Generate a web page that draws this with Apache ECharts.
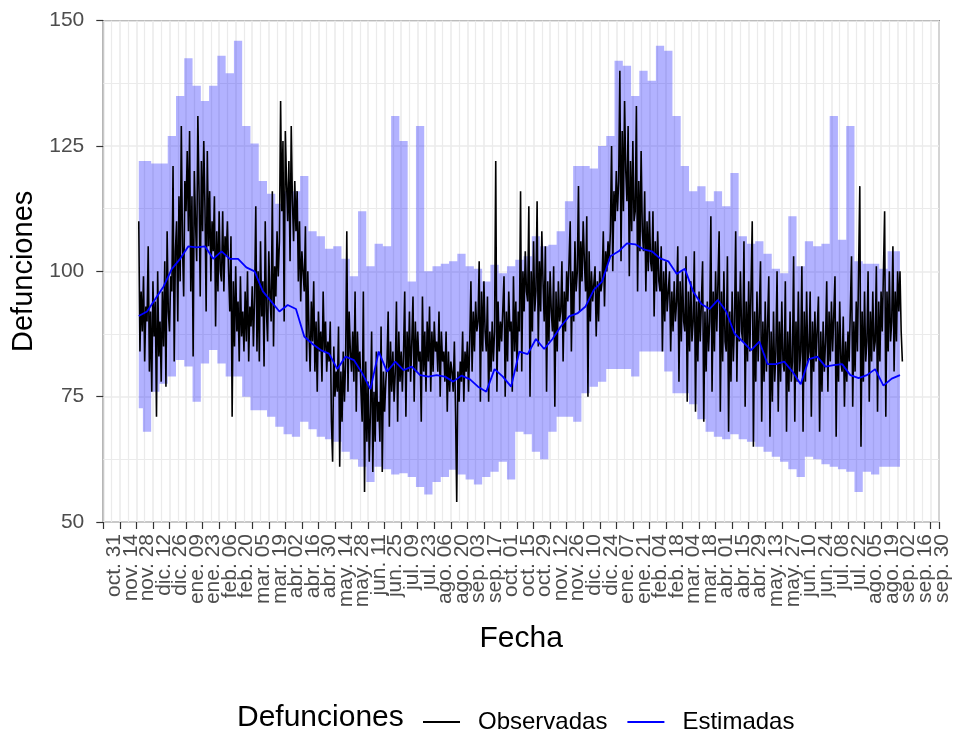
<!DOCTYPE html>
<html lang="es">
<head>
<meta charset="UTF-8">
<title>Defunciones observadas y estimadas</title>
<style>
    html, body {
        margin: 0;
        padding: 0;
        background: #fff;
    }

    #main {
        width: 953px;
        height: 731px;
    }
</style>
</head>
<body>
<div id="main"></div>
<script src="https://cdn.jsdelivr.net/npm/echarts@6/dist/echarts.min.js"></script>
<script>
    // origen del eje x: las etiquetas van cada 14 dias desde aqui
    const axisOrigin = '2019-10-31'
    const dataStart = '2019-11-30'
    const axisEnd = 707
    const weekStep = 7
    const tickDays = 14
    const meses = ['ene', 'feb', 'mar', 'abr', 'may', 'jun', 'jul', 'ago', 'sep', 'oct', 'nov', 'dic']

    // defunciones observadas, diarias desde dataStart (una fila por semana)
    const observadas = [
        110, 84, 96, 88, 99, 82, 93,
        90, 105, 80, 92, 76, 98, 87,
        94, 71, 100, 83, 90, 78, 96,
        85, 102, 77, 108, 92, 88, 99,
        96, 121, 82, 104, 110, 90, 115,
        98, 129, 105, 95, 118, 112, 124,
        108, 128, 96, 115, 83, 120, 110,
        102, 131, 116, 95, 122, 108, 126,
        113, 92, 124, 105, 116, 98, 110,
        104, 115, 89, 108, 96, 112, 100,
        98, 112, 96, 107, 103, 110, 100,
        92, 107, 71, 98, 85, 101, 88,
        94, 82, 99, 87, 92, 84, 96,
        86, 100, 82, 93, 89, 97, 85,
        95, 113, 84, 100, 82, 106, 91,
        98, 81, 110, 92, 86, 104, 95,
        90, 116, 85, 101, 95, 108, 99,
        106, 134, 112, 126, 90, 128, 118,
        110, 122, 102, 129, 114, 106, 118,
        108, 116, 98, 110, 94, 104, 100,
        96, 109, 82, 100, 88, 80, 94,
        86, 98, 80, 90, 76, 92, 84,
        88, 78, 96, 84, 90, 80, 86,
        82, 90, 70, 62, 85, 75, 80,
        76, 89, 61, 80, 70, 84, 74,
        82, 108, 76, 92, 84, 80, 88,
        78, 96, 72, 88, 80, 84, 76,
        70, 96, 56, 82, 66, 78, 62,
        72, 88, 60, 76, 66, 84, 70,
        74, 66, 89, 60, 80, 72, 78,
        82, 92, 69, 86, 76, 84, 74,
        80, 94, 70, 88, 78, 84, 76,
        84, 96, 71, 88, 80, 92, 78,
        86, 95, 74, 90, 80, 88, 82,
        84, 70, 95, 80, 88, 76, 90,
        82, 93, 76, 88, 80, 90, 84,
        86, 80, 92, 75, 88, 82, 84,
        78, 88, 72, 84, 76, 82, 80,
        76, 86, 72, 54, 80, 74, 82,
        78, 88, 74, 84, 80, 86, 76,
        86, 98, 80, 92, 84, 94, 88,
        90, 102, 74, 96, 84, 98, 88,
        84, 95, 74, 88, 80, 90, 82,
        88, 122, 76, 94, 84, 90, 86,
        86, 99, 75, 92, 82, 96, 88,
        90, 76, 99, 84, 94, 80, 92,
        88, 116, 80, 100, 92, 104, 96,
        94, 113, 75, 100, 88, 106, 92,
        96, 114, 85, 102, 92, 108, 98,
        90, 105, 76, 98, 86, 100, 92,
        88, 101, 73, 96, 84, 98, 90,
        92, 102, 82, 96, 88, 100, 94,
        94, 110, 84, 100, 90, 106, 96,
        100, 117, 92, 106, 98, 110, 102,
        96, 111, 75, 104, 90, 100, 94,
        94, 101, 87, 98, 90, 100, 96,
        98, 108, 93, 104, 100, 106, 102,
        108, 125, 100, 116, 110, 120, 112,
        118, 140, 102, 128, 112, 134, 120,
        114, 129, 99, 122, 108, 126, 110,
        112, 133, 96, 118, 104, 124, 108,
        104, 116, 96, 110, 100, 112, 102,
        100, 112, 91, 106, 96, 108, 98,
        96, 105, 84, 100, 90, 102, 92,
        92, 100, 84, 96, 88, 98, 90,
        94, 105, 78, 98, 86, 100, 90,
        88, 103, 74, 96, 84, 98, 86,
        90, 104, 72, 94, 82, 96, 86,
        86, 102, 70, 92, 80, 94, 84,
        90, 111, 76, 96, 84, 100, 88,
        88, 108, 72, 96, 82, 100, 86,
        84, 103, 68, 92, 78, 96, 82,
        90, 108, 78, 96, 86, 100, 88,
        86, 106, 73, 94, 82, 98, 84,
        84, 110, 65, 92, 78, 96, 82,
        82, 102, 70, 90, 78, 94, 80,
        80, 99, 67, 88, 74, 92, 78,
        84, 100, 72, 90, 78, 94, 82,
        80, 98, 68, 88, 76, 92, 78,
        82, 103, 70, 90, 78, 96, 80,
        84, 101, 68, 92, 78, 96, 82,
        84, 96, 71, 90, 80, 92, 82,
        82, 95, 68, 88, 76, 90, 80,
        86, 98, 76, 92, 82, 94, 84,
        84, 99, 67, 90, 78, 94, 82,
        80, 91, 73, 86, 78, 88, 82,
        82, 103, 73, 90, 80, 94, 84,
        84, 117, 65, 92, 78, 96, 82,
        86, 100, 74, 92, 82, 96, 84,
        86, 101, 72, 94, 82, 96, 88,
        88, 112, 71, 96, 84, 100, 86,
        90, 105, 80, 96, 86, 100, 92,
        100, 88, 82
    ]

    // valores semanales (desde dataStart, cada 7 dias)
    const estimadas = [
        91.1, 92, 94.5, 97, 100.5, 102.5, 105, 104.8, 105, 102.5,
        104, 102.5, 102.5, 100.8, 100, 96, 94, 92, 93.3, 92.5,
        87, 85.5, 84.3, 83.6, 80.5, 83, 82.3, 79.7, 76.5, 84,
        80, 82, 80.3, 81, 79.3, 79, 79.3, 79, 78, 79.2,
        78.5, 77, 76, 80.5, 79, 77, 84, 83.5, 86.5, 84.5,
        86.5, 89, 91, 91.6, 93, 96.3, 98, 103, 104, 105.6,
        105.4, 104.4, 104, 102.6, 102, 99.5, 100.5, 96, 93.5, 92.5,
        94.3, 92, 87.6, 86, 84.3, 86, 81.5, 81.5, 82, 80,
        77.5, 82.5, 83, 81, 81.3, 81.5, 79.3, 78.7, 79.3, 80.5,
        77.2, 78.6, 79.3
    ]
    const limInf = [
        72.7, 68, 76, 77.6, 79, 82.3, 81, 74, 81.6, 84.3,
        81.6, 79, 79, 75, 72.3, 72.3, 71, 69, 67.5, 67,
        70, 68.5, 67, 66.5, 66, 64, 62.5, 61, 58, 61,
        60.5, 59.5, 59.7, 59, 57, 55.5, 58, 59, 60.4, 59.5,
        58.5, 57.5, 59, 60, 62, 58.5, 68, 67.5, 64, 62.5,
        68, 71, 71, 70, 75.7, 77, 78, 80.5, 80.5, 80.5,
        79, 84, 84, 84, 80, 75.7, 75.7, 73.5, 70.5, 68,
        67, 66.5, 67.5, 66.5, 66, 65, 64, 63, 62, 60.5,
        59, 63, 62.5, 61.5, 61, 60.5, 60, 56, 60, 59.5,
        61, 61, 61
    ]
    const limSup = [
        122, 122, 121.5, 121.5, 127, 135, 142.5, 137, 134, 137,
        143, 139.5, 146, 129, 125.5, 118, 115.5, 113.5, 116, 116,
        119, 108, 107, 104.5, 105, 102.5, 99, 112, 101, 105.5,
        105, 131, 126, 98, 129, 100, 101, 101.5, 102, 103.5,
        101, 100.5, 98, 101.3, 99.6, 101, 102.3, 103, 107, 105,
        105.3, 108, 114, 121, 121, 120.5, 125, 127, 142, 141,
        135, 140, 138, 145, 144, 131, 121, 116, 117, 114,
        116, 113, 119.6, 107, 105.5, 106, 103.5, 100.5, 99.6, 111,
        101, 106, 105, 105.5, 131, 106.3, 129, 102, 101.5, 101.5,
        100.5, 104, 104
    ]

    const DAY = 86400000
    const t0 = Date.parse(axisOrigin)
    const offset = Math.round((Date.parse(dataStart) - t0) / DAY)

    const obsData = observadas.map((v, i) => [offset + i, v])
    const weekX = estimadas.map((v, i) => offset + i * weekStep)
    const estData = estimadas.map((v, i) => [weekX[i], v])
    const bandData = limSup.map((v, i) => [weekX[i], limInf[i], v])

    function etiqueta(v) {
        if (v < 0 || v % tickDays !== 0) return ''
        let d = new Date(t0 + v * DAY)
        return meses[d.getUTCMonth()] + '. ' + String(d.getUTCDate()).padStart(2, '0')
    }

    // banda del intervalo: un solo poligono escalonado, en coordenadas del eje
    function dibujaBanda(params, api) {
        if (params.dataIndex !== 0) return null
        let n = bandData.length
        let half = weekStep / 2
        let arriba = []
        let abajo = []
        for (let i = 0; i < n; i++) {
            let x = bandData[i][0]
            let x1 = i === 0 ? x : x - half
            let x2 = i === n - 1 ? x : x + half
            arriba.push(api.coord([x1, bandData[i][2]]), api.coord([x2, bandData[i][2]]))
            abajo.push(api.coord([x1, bandData[i][1]]), api.coord([x2, bandData[i][1]]))
        }
        return {
            type: 'polygon',
            shape: {points: arriba.concat(abajo.reverse())},
            style: {fill: 'rgba(0, 0, 255, 0.3)', stroke: null}
        }
    }

    const fuente = "'Liberation Sans', Arial, sans-serif"
    const gris = '#333333'

    // panel principal
    const gLeft = 103.3
    const gRight = 14
    const pxDay = (953 - gLeft - gRight) / axisEnd
    // segundo grid (solo etiquetas), una marca de 14 dias a la izquierda,
    // para que la etiqueta del minimo no oculte a la siguiente
    const gLeftLab = gLeft - tickDays * pxDay

    let myChart = echarts.init(document.querySelector('#main'))
    let option = {
        animation: false,
        backgroundColor: '#ffffff',
        textStyle: {fontFamily: fuente},
        grid: [
            {
                left: gLeft,
                right: gRight,
                top: 20.7,
                bottom: 209,
                containLabel: false,
                outerBoundsMode: 'none',
                show: true,
                borderColor: gris,
                borderWidth: 1.3,
                backgroundColor: 'transparent'
            },
            {
                left: gLeftLab,
                right: gRight,
                top: 20.7,
                bottom: 209,
                containLabel: false,
                outerBoundsMode: 'none',
                show: false
            }
        ],
        xAxis: [
            {
                type: 'value',
                gridIndex: 0,
                min: 0,
                max: axisEnd,
                interval: tickDays,
                name: 'Fecha',
                nameLocation: 'middle',
                nameGap: 102,
                nameTextStyle: {fontSize: 30, color: '#000', fontFamily: fuente},
                axisLine: {show: false},
                axisTick: {show: true, length: 7, lineStyle: {color: gris, width: 1.2}},
                axisLabel: {show: false},
                splitLine: {show: true, lineStyle: {color: '#ebebeb', width: 1.6}},
                minorTick: {show: false, splitNumber: 2},
                minorSplitLine: {show: true, lineStyle: {color: '#ebebeb', width: 1.2}}
            },
            {
                type: 'value',
                gridIndex: 1,
                min: -tickDays,
                max: axisEnd,
                interval: tickDays,
                axisLine: {show: false},
                axisTick: {show: false},
                splitLine: {show: false},
                axisLabel: {
                    rotate: 90,
                    fontSize: 21,
                    lineHeight: 10,
                    color: '#4d4d4d',
                    margin: 12,
                    verticalAlign: 'top',
                    padding: [6, 0, 0, 0],
                    showMinLabel: false,
                    showMaxLabel: false,
                    formatter: etiqueta
                }
            }
        ],
        yAxis: [
            {
                type: 'value',
                gridIndex: 0,
                min: 50,
                max: 150,
                interval: 25,
                name: 'Defunciones',
                nameLocation: 'middle',
                nameGap: 56,
                nameTextStyle: {fontSize: 29, color: '#000', fontFamily: fuente},
                axisLine: {show: false},
                axisTick: {show: true, length: 7, lineStyle: {color: gris, width: 1.2}},
                axisLabel: {fontSize: 21, color: '#4d4d4d', margin: 19},
                splitLine: {show: true, lineStyle: {color: '#ebebeb', width: 1.6}},
                minorTick: {show: false, splitNumber: 2},
                minorSplitLine: {show: true, lineStyle: {color: '#ebebeb', width: 1.2}}
            },
            {
                type: 'value',
                gridIndex: 1,
                min: 50,
                max: 150,
                show: false
            }
        ],
        legend: {
            data: ['Observadas', 'Estimadas'],
            left: 418,
            top: 705,
            icon: 'rect',
            itemWidth: 37,
            itemHeight: 2,
            itemGap: 20,
            textStyle: {fontSize: 24, color: '#000', fontFamily: fuente, padding: [0, 0, 0, 13]}
        },
        graphic: [
            {
                type: 'text',
                left: 237,
                top: 703,
                style: {text: 'Defunciones', font: '30px ' + fuente, fill: '#000'}
            }
        ],
        series: [
            {
                name: 'banda',
                type: 'custom',
                data: bandData,
                encode: {x: 0, y: [1, 2]},
                renderItem: dibujaBanda,
                silent: true,
                z: 1
            },
            {
                name: 'Observadas',
                type: 'line',
                data: obsData,
                symbol: 'none',
                color: '#000000',
                lineStyle: {color: '#000000', width: 1.6},
                z: 2
            },
            {
                name: 'Estimadas',
                type: 'line',
                data: estData,
                symbol: 'none',
                color: '#0000ff',
                lineStyle: {color: '#0000ff', width: 1.8},
                z: 3
            }
        ]
    }
    myChart.setOption(option)
</script>
</body>
</html>
